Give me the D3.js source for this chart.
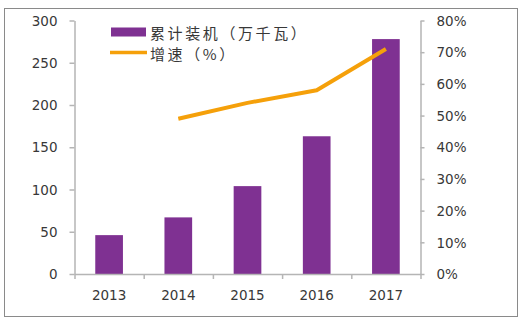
<!DOCTYPE html>
<html>
<head>
<meta charset="utf-8">
<script src="https://cdn.jsdelivr.net/npm/d3@7"></script>
<style>
  html, body { margin: 0; padding: 0; background: #fff; }
  svg { display: block; }
</style>
</head>
<body>
<svg id="chart" width="530" height="322"></svg>
<script>
// Years on the category axis
const years = ["2013", "2014", "2015", "2016", "2017"];
// Cumulative installed capacity (10,000 kW)
const capacity = [46, 67, 104, 163, 278];
// Growth rate (%), no value for the first year
const growth = [null, 49, 54, 58, 71];
// Axis tick values
const leftTicks = [0, 50, 100, 150, 200, 250, 300];
const rightTicks = [0, 10, 20, 30, 40, 50, 60, 70, 80];
// Legend labels
const barLabel = "累计装机（万千瓦）";
const lineLabel = "增速（%）";

const purple = "#7f3192";
const orange = "#f5a00a";
const axisColor = "#b5b5b5";
const textColor = "#383838";
const tickFont = "'DejaVu Sans', Verdana, sans-serif";

const svg = d3.select("#chart");

// outer frame
svg.append("rect")
  .attr("x", 4.5).attr("y", 8.5)
  .attr("width", 513).attr("height", 308)
  .attr("fill", "#fff").attr("stroke", "#8a8a8a").attr("stroke-width", 1);

const plot = { left: 74.5, right: 420.5, top: 20.5, bottom: 274 };

const x = d3.scaleBand().domain(years)
  .range([plot.left, plot.right])
  .paddingInner(0.6).paddingOuter(0.3);

const yL = d3.scaleLinear().domain([0, 300]).range([plot.bottom, plot.top]);
const yR = d3.scaleLinear().domain([0, 80]).range([plot.bottom, plot.top]);

// bars
svg.append("g").selectAll("rect")
  .data(years)
  .join("rect")
  .attr("x", d => x(d))
  .attr("width", x.bandwidth())
  .attr("y", (d, i) => yL(capacity[i]))
  .attr("height", (d, i) => yL(0) - yL(capacity[i]))
  .attr("fill", purple);

// left axis
const gL = svg.append("g")
  .attr("transform", `translate(${plot.left},0)`)
  .call(d3.axisLeft(yL).tickValues(leftTicks).tickSize(5).tickSizeOuter(0).tickPadding(12).tickFormat(d3.format("d")));

// right axis
const gR = svg.append("g")
  .attr("transform", `translate(${plot.right},0)`)
  .call(d3.axisRight(yR).tickValues(rightTicks).tickSize(4).tickSizeOuter(0).tickPadding(12).tickFormat(d => d + "%"));

// bottom axis: ticks on category boundaries
const xb = d3.scaleLinear().domain([0, years.length]).range([plot.left, plot.right]);
const gB = svg.append("g")
  .attr("transform", `translate(0,${plot.bottom})`)
  .call(d3.axisBottom(xb).tickValues(d3.range(years.length + 1)).tickSize(5).tickSizeOuter(0).tickFormat(""));

// category labels
const gC = svg.append("g")
  .attr("transform", `translate(0,${plot.bottom})`)
  .call(d3.axisBottom(x).tickSize(0).tickPadding(16));
gC.select(".domain").remove();

[gL, gR, gB].forEach(g => {
  g.select(".domain").attr("stroke", axisColor).attr("stroke-width", 1.5);
  g.selectAll(".tick line").attr("stroke", axisColor).attr("stroke-width", 1.5);
});
[gL, gR, gC].forEach(g => {
  g.attr("font-family", tickFont).attr("font-size", 13.5);
  g.selectAll(".tick text").attr("fill", textColor);
});
gL.selectAll(".tick text").attr("dy", "0.35em");
gR.selectAll(".tick text").attr("dy", "0.35em");

// growth line
const line = d3.line()
  .defined(d => d.v != null)
  .x(d => x(d.year) + x.bandwidth() / 2)
  .y(d => yR(d.v));

svg.append("path")
  .datum(years.map((year, i) => ({ year, v: growth[i] })))
  .attr("d", line)
  .attr("fill", "none")
  .attr("stroke", orange)
  .attr("stroke-width", 4)
  .attr("stroke-linejoin", "round");

// legend
const legend = svg.append("g");
legend.append("rect")
  .attr("x", 111).attr("y", 27.5).attr("width", 35).attr("height", 9)
  .attr("fill", purple);
legend.append("line")
  .attr("x1", 110).attr("x2", 147).attr("y1", 52.5).attr("y2", 52.5)
  .attr("stroke", orange).attr("stroke-width", 3.5);
legend.selectAll("text")
  .data([{ t: barLabel, y: 32.5 }, { t: lineLabel, y: 53 }])
  .join("text")
  .attr("x", 150).attr("y", d => d.y)
  .attr("dominant-baseline", "central")
  .attr("font-family", "'Noto Sans CJK SC', sans-serif")
  .attr("font-size", 15)
  .attr("letter-spacing", 2.6)
  .attr("fill", textColor)
  .text(d => d.t);
</script>
</body>
</html>
